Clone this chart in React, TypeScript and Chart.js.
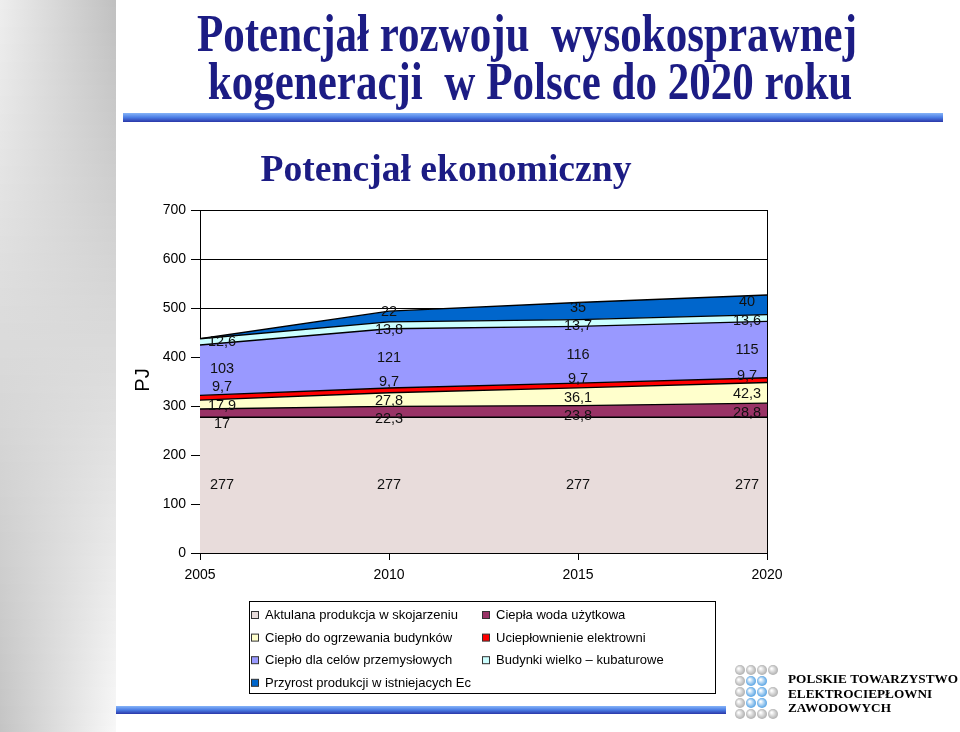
import React, { useEffect, useRef } from "react";
import { Chart, registerables } from "chart.js";

Chart.register(...registerables);

// ---- data ----
const years = ["2005", "2010", "2015", "2020"];
const aktualna = [277, 277, 277, 277];
const cieplaWoda = [17, 22.3, 23.8, 28.8];
const ogrzewanie = [17.9, 27.8, 36.1, 42.3];
const uciepl = [9.7, 9.7, 9.7, 9.7];
const przemysl = [103, 121, 116, 115];
const budynki = [12.6, 13.8, 13.7, 13.6];
const przyrost = [0, 22, 35, 40];

const seriesNames = [
  "Aktulana produkcja w skojarzeniu",
  "Ciepła woda użytkowa",
  "Ciepło do ogrzewania budynków",
  "Uciepłownienie elektrowni",
  "Ciepło dla celów przemysłowych",
  "Budynki wielko – kubaturowe",
  "Przyrost produkcji w istniejacych Ec",
];
const seriesValues = [aktualna, cieplaWoda, ogrzewanie, uciepl, przemysl, budynki, przyrost];
const seriesColors = ["#e8dcdb", "#993366", "#ffffcc", "#ff0000", "#9999ff", "#ccffff", "#0066cc"];

const yMin = 0;
const yMax = 700;
const yStep = 100;

const titleLine1 = "Potencjał rozwoju  wysokosprawnej";
const titleLine2 = "kogeneracji  w Polsce do 2020 roku";
const subTitle = "Potencjał ekonomiczny";
const yTitle = "PJ";
const logoLines = ["POLSKIE TOWARZYSTWO", "ELEKTROCIEPŁOWNI", "ZAWODOWYCH"];

const SANS = '"Liberation Sans", Arial, sans-serif';
const SERIF = '"Liberation Serif", "Times New Roman", serif';
const NAVY = "#1c1c84";

const fmt = (v: number) => String(v).replace(".", ",");

const decorPlugin = {
  id: "decor",
  beforeDraw(chart: any) {
    const ctx = chart.ctx as CanvasRenderingContext2D;
    ctx.save();
    ctx.fillStyle = "#ffffff";
    ctx.fillRect(0, 0, chart.width, chart.height);
    // left gray strip
    const H = chart.height;
    for (let y = 0; y < H; y += 1) {
      const t = y / H;
      const l = Math.round(238 + (196 - 238) * t);
      const r = Math.round(192 + (248 - 192) * t);
      const g = ctx.createLinearGradient(0, 0, 116, 0);
      g.addColorStop(0, `rgb(${l},${l},${l})`);
      g.addColorStop(1, `rgb(${r},${r},${r})`);
      ctx.fillStyle = g;
      ctx.fillRect(0, y, 116, 1);
    }
    // blue bars
    const bar = (x0: number, x1: number, y0: number, y1: number) => {
      const g = ctx.createLinearGradient(0, y0, 0, y1);
      g.addColorStop(0, "#86b4f8");
      g.addColorStop(0.5, "#4a7ce4");
      g.addColorStop(1, "#2a36a8");
      ctx.fillStyle = g;
      ctx.fillRect(x0, y0, x1 - x0, y1 - y0);
    };
    bar(123, 943, 113, 122);
    bar(116, 726, 706, 714);

    // titles
    ctx.fillStyle = NAVY;
    ctx.textAlign = "center";
    ctx.textBaseline = "alphabetic";
    ctx.font = `bold 52px ${SERIF}`;
    const w1 = ctx.measureText(titleLine1).width;
    const sx = 660 / w1;
    ctx.save();
    ctx.translate(527, 51);
    ctx.scale(sx, 1);
    ctx.fillText(titleLine1, 0, 0);
    ctx.restore();
    ctx.save();
    ctx.translate(530, 99);
    ctx.scale(sx, 1);
    ctx.fillText(titleLine2, 0, 0);
    ctx.restore();

    ctx.font = `bold 37px ${SERIF}`;
    const w3 = ctx.measureText(subTitle).width;
    ctx.save();
    ctx.translate(446, 181);
    ctx.scale(371 / w3, 1);
    ctx.fillText(subTitle, 0, 0);
    ctx.restore();

    // logo
    const gray = "#a9a9a9";
    const blue = "#4b9de2";
    const rows = [
      [gray, gray, gray, gray],
      [gray, blue, blue],
      [gray, blue, blue, gray],
      [gray, blue, blue],
      [gray, gray, gray, gray],
    ];
    rows.forEach((row, ri) => {
      row.forEach((c, ci) => {
        const cx = 740 + ci * 11;
        const cy = 670 + ri * 11;
        const rg = ctx.createRadialGradient(cx - 1.5, cy - 1.5, 0.5, cx, cy, 5.4);
        rg.addColorStop(0, "#ffffff");
        rg.addColorStop(1, c);
        ctx.fillStyle = rg;
        ctx.beginPath();
        ctx.arc(cx, cy, 5, 0, Math.PI * 2);
        ctx.fill();
      });
    });
    ctx.fillStyle = "#000";
    ctx.textAlign = "left";
    ctx.font = `bold 13.5px ${SERIF}`;
    const lw = ctx.measureText(logoLines[0]).width;
    const ls = Math.min(1, 170 / lw);
    logoLines.forEach((t, i) => {
      ctx.save();
      ctx.translate(788, 683 + i * 14.5);
      ctx.scale(ls, 1);
      ctx.fillText(t, 0, 0);
      ctx.restore();
    });
    ctx.restore();
  },
  afterDatasetsDraw(chart: any) {
    const ctx = chart.ctx as CanvasRenderingContext2D;
    const ys = chart.scales.y;
    const xs = chart.scales.x;
    const area = chart.chartArea;
    ctx.save();
    ctx.font = `14.5px ${SANS}`;
    ctx.fillStyle = "#111";
    ctx.textAlign = "center";
    ctx.textBaseline = "middle";
    const MIN = 18.5;
    years.forEach((_, i) => {
      let cum = 0;
      const items: { t: string; y: number }[] = [];
      seriesValues.forEach((arr) => {
        const v = arr[i];
        if (v > 0) items.push({ t: fmt(v), y: ys.getPixelForValue(cum + v / 2) });
        cum += v;
      });
      items.sort((a, b) => a.y - b.y);
      for (let it = 0; it < 200; it++) {
        for (let k = 1; k < items.length; k++) {
          const gap = items[k].y - items[k - 1].y;
          if (gap < MIN) {
            const s = (MIN - gap) / 2;
            items[k - 1].y -= s;
            items[k].y += s;
          }
        }
      }
      let x = xs.getPixelForValue(i);
      x = Math.max(area.left + 22, Math.min(area.right - 20, x));
      items.forEach((o) => ctx.fillText(o.t, x, o.y));
    });
    ctx.restore();
  },
  afterDraw(chart: any) {
    const ctx = chart.ctx as CanvasRenderingContext2D;
    ctx.save();
    // y title
    ctx.fillStyle = "#000";
    ctx.font = `20px ${SANS}`;
    ctx.textAlign = "center";
    ctx.textBaseline = "middle";
    ctx.translate(143, 380);
    ctx.rotate(-Math.PI / 2);
    ctx.fillText(yTitle, 0, 0);
    ctx.restore();

    // legend box
    ctx.save();
    ctx.strokeStyle = "#000";
    ctx.lineWidth = 1;
    ctx.fillStyle = "#fff";
    ctx.fillRect(249.5, 601.5, 466, 92);
    ctx.strokeRect(249.5, 601.5, 466, 92);
    ctx.font = `13px ${SANS}`;
    ctx.textAlign = "left";
    ctx.textBaseline = "middle";
    seriesNames.forEach((name, i) => {
      const col = i % 2;
      const row = Math.floor(i / 2);
      const mx = col === 0 ? 251 : 482;
      const ty = 615 + row * 22.6;
      ctx.fillStyle = seriesColors[i];
      ctx.fillRect(mx + 0.5, ty - 3.5, 7, 7);
      ctx.strokeStyle = "#333";
      ctx.strokeRect(mx + 0.5, ty - 3.5, 7, 7);
      ctx.fillStyle = "#000";
      ctx.fillText(name, mx + 14, ty + 0.5);
    });
    ctx.restore();
  },
};

export default function App() {
  const ref = useRef<HTMLCanvasElement | null>(null);
  useEffect(() => {
    if (!ref.current) return;
    const chart = new Chart(ref.current, {
      type: "line",
      data: {
        labels: years,
        datasets: seriesValues.map((arr, i) => ({
          label: seriesNames[i],
          data: arr,
          backgroundColor: seriesColors[i],
          borderColor: "#000",
          borderWidth: 1.4,
          fill: i === 0 ? "origin" : "-1",
          pointRadius: 0,
          tension: 0,
        })),
      },
      options: {
        responsive: false,
        animation: false,
        devicePixelRatio: 1,
        layout: { padding: { left: 128, right: 193, top: 210, bottom: 139 } },
        plugins: {
          legend: { display: false },
          tooltip: { enabled: false },
          title: { display: false },
        },
        scales: {
          x: {
            type: "category",
            offset: false,
            grid: {
              color: (c: any) => (c.index === years.length - 1 ? "#000" : "rgba(0,0,0,0)"),
              tickColor: "#000",
              tickLength: 7,
            },
            border: { color: "#000", width: 1 },
            ticks: { color: "#000", font: { family: SANS, size: 14 }, padding: 7, maxRotation: 0 },
            afterFit: (s: any) => {
              s.height = 40;
            },
          },
          y: {
            stacked: true,
            min: yMin,
            max: yMax,
            ticks: { stepSize: yStep, color: "#000", font: { family: SANS, size: 14 }, padding: 5 },
            grid: { color: "#000", tickColor: "#000", tickLength: 9 },
            border: { color: "#000", width: 1 },
            afterFit: (s: any) => {
              s.width = 72;
            },
          },
        },
      },
      plugins: [decorPlugin],
    });
    return () => chart.destroy();
  }, []);
  return (
    <div style={{ position: "absolute", left: 0, top: 0, width: 960, height: 732 }}>
      <canvas ref={ref} width={960} height={732} style={{ display: "block", width: 960, height: 732 }} />
    </div>
  );
}
